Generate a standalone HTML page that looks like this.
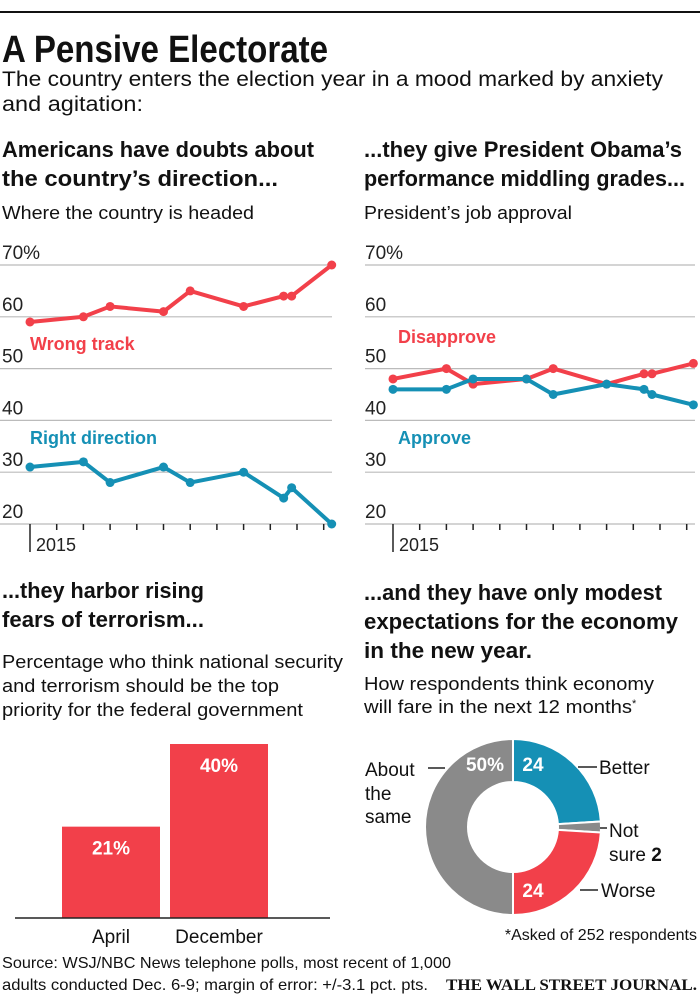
<!DOCTYPE html>
<html><head><meta charset="utf-8">
<style>
html,body{margin:0;padding:0;background:#fff;}
svg{display:block;font-family:"Liberation Sans",sans-serif;}
.b{font-weight:bold;}
</style></head>
<body>
<svg id="root" width="700" height="997" viewBox="0 0 700 997">
<line x1="0" y1="12" x2="700" y2="12" stroke="#111" stroke-width="2"/>
<text x="2" y="62" font-size="38" class="b" fill="#111" textLength="326" lengthAdjust="spacingAndGlyphs">A Pensive Electorate</text>
<text x="2" y="86" font-size="21" fill="#111" textLength="661" lengthAdjust="spacingAndGlyphs">The country enters the election year in a mood marked by anxiety</text>
<text x="2" y="111" font-size="21" fill="#111" textLength="141" lengthAdjust="spacingAndGlyphs">and agitation:</text>

<text x="2" y="157" font-size="22" class="b" fill="#111" textLength="312" lengthAdjust="spacingAndGlyphs">Americans have doubts about</text>
<text x="2" y="186" font-size="22" class="b" fill="#111" textLength="276" lengthAdjust="spacingAndGlyphs">the country’s direction...</text>
<text x="2" y="219" font-size="18" fill="#111" textLength="252" lengthAdjust="spacingAndGlyphs">Where the country is headed</text>

<text x="364" y="157" font-size="22" class="b" fill="#111" textLength="318" lengthAdjust="spacingAndGlyphs">...they give President Obama’s</text>
<text x="364" y="186" font-size="22" class="b" fill="#111" textLength="321" lengthAdjust="spacingAndGlyphs">performance middling grades...</text>
<text x="364" y="219" font-size="18" fill="#111" textLength="208" lengthAdjust="spacingAndGlyphs">President’s job approval</text>

<g id="chart1"></g>
<g id="chart2"></g>

<text x="2" y="598" font-size="22" class="b" fill="#111" textLength="202" lengthAdjust="spacingAndGlyphs">...they harbor rising</text>
<text x="2" y="627" font-size="22" class="b" fill="#111" textLength="202" lengthAdjust="spacingAndGlyphs">fears of terrorism...</text>
<text x="2" y="668" font-size="18" fill="#111" textLength="341" lengthAdjust="spacingAndGlyphs">Percentage who think national security</text>
<text x="2" y="692" font-size="18" fill="#111" textLength="277" lengthAdjust="spacingAndGlyphs">and terrorism should be the top</text>
<text x="2" y="716" font-size="18" fill="#111" textLength="301" lengthAdjust="spacingAndGlyphs">priority for the federal government</text>
<g id="chart3"></g>

<text x="364" y="600" font-size="22" class="b" fill="#111" textLength="298" lengthAdjust="spacingAndGlyphs">...and they have only modest</text>
<text x="364" y="629" font-size="22" class="b" fill="#111" textLength="314" lengthAdjust="spacingAndGlyphs">expectations for the economy</text>
<text x="364" y="658" font-size="22" class="b" fill="#111" textLength="168" lengthAdjust="spacingAndGlyphs">in the new year.</text>
<text x="364" y="690" font-size="18" fill="#111" textLength="290" lengthAdjust="spacingAndGlyphs">How respondents think economy</text>
<text x="364" y="713" font-size="18" fill="#111"><tspan textLength="268" lengthAdjust="spacingAndGlyphs">will fare in the next 12 months</tspan><tspan font-size="11" dy="-6">*</tspan></text>
<g id="chart4"></g>

<text x="2" y="968" font-size="16" fill="#111" textLength="449" lengthAdjust="spacingAndGlyphs">Source: WSJ/NBC News telephone polls, most recent of 1,000</text>
<text x="2" y="990" font-size="16" fill="#111" textLength="426" lengthAdjust="spacingAndGlyphs">adults conducted Dec. 6-9; margin of error: +/-3.1 pct. pts.</text>
<text x="697" y="990" font-size="16" class="b" fill="#111" text-anchor="end" font-family="Liberation Serif, serif" textLength="251" lengthAdjust="spacingAndGlyphs">THE WALL STREET JOURNAL.</text>
</svg>
<script>
const NS="http://www.w3.org/2000/svg";
const RED="#f2404a", BLUE="#1590b5", GRAY="#8a8a8a";
// Chart 1 data
const months1=[0,2,3,5,6,8,9.5,9.8,11.3];
const wrongTrack=[59,60,62,61,65,62,64,64,70];
const rightDirection=[31,32,28,31,28,30,25,27,20];
// Chart 2 data
const months2=[0,2,3,5,6,8,9.4,9.7,11.25];
const disapprove=[48,50,47,48,50,47,49,49,51];
const approve=[46,46,48,48,45,47,46,45,43];
const yTicks=[20,30,40,50,60,70];
const yTickLabels=["20","30","40","50","60","70%"];
// Chart 3 data
const barCategories=["April","December"];
const barValues=[21,40];
// Chart 4 data
const donutLabels=["Better","Not sure","Worse","About the same"];
const donutValues=[24,2,24,50];

function el(tag,attrs,parent,text){const e=document.createElementNS(NS,tag);for(const k in attrs)e.setAttribute(k,attrs[k]);if(text!==undefined)e.textContent=text;parent.appendChild(e);return e;}

function lineChart(gid,x0,x1,xStart,labelX,months,s1,s2,c1,c2,lab1,lab2){
  const g=document.getElementById(gid);
  const y=v=>524-(v-20)*5.18;
  const x=m=>xStart+m*26.7;
  yTicks.forEach((t,i)=>{
    const l=el("line",{x1:x0,x2:x1,y1:y(t),y2:y(t),stroke:"#bbb","stroke-width":1.2},g);
    
    
    const tx=el("text",{x:labelX,y:y(t)-6,"font-size":19,fill:"#222"},g,yTickLabels[i]);
    
    
  });
  for(let m=0;m<12;m++){
    const tk=el("line",{x1:x(m),x2:x(m),y1:524,y2:m==0?552:530,stroke:"#222","stroke-width":1.5},g);
    
    
  }
  const yr=el("text",{x:x(0)+6,y:551,"font-size":18,fill:"#222"},g,"2015");
  
  
  [[s1,c1],[s2,c2]].forEach(([s,c],k)=>{
    const p=el("polyline",{points:s.map((v,i)=>x(months[i])+","+y(v)).join(" "),fill:"none",stroke:c,"stroke-width":4,"stroke-linejoin":"round"},g);
    
    
    s.forEach((v,i)=>{
      const d=el("circle",{cx:x(months[i]),cy:y(v),r:4.5,fill:c},g);
      
      
    });
  });
  [[lab1,c1],[lab2,c2]].forEach(([l,c])=>{
    const t=el("text",{x:l[1],y:l[2],"font-size":18,"font-weight":"bold",fill:c},g,l[0]);
    
    
  });
}
lineChart("chart1",0,332,30,2,months1,wrongTrack,rightDirection,RED,BLUE,["Wrong track",30,350],["Right direction",30,444]);
lineChart("chart2",365,695,393,365,months2,disapprove,approve,RED,BLUE,["Disapprove",398,343],["Approve",398,444]);

// bar chart
(function(){
  const g=document.getElementById("chart3");
  const base=918, k=4.35, xs=[62,170], w=98;
  barValues.forEach((v,i)=>{
    const r=el("rect",{x:xs[i],y:base-v*k,width:w,height:v*k,fill:RED},g);
    
    
    const t=el("text",{x:xs[i]+w/2,y:base-v*k+28,"font-size":19,"font-weight":"bold",fill:"#fff","text-anchor":"middle"},g,v+"%");
    
    
    const c=el("text",{x:xs[i]+w/2,y:943,"font-size":19,fill:"#111","text-anchor":"middle"},g,barCategories[i]);
    
    
  });
  const a=el("line",{x1:15,x2:330,y1:base,y2:base,stroke:"#222","stroke-width":1.5},g);
  
  
})();

// donut
(function(){
  const g=document.getElementById("chart4");
  const cx=513, cy=827, R=88, r=45;
  const cols=[BLUE,GRAY,RED,GRAY];
  const total=donutValues.reduce((a,b)=>a+b,0);
  let acc=0;
  const pt=(a,rad)=>[cx+rad*Math.sin(a),cy-rad*Math.cos(a)];
  donutValues.forEach((v,i)=>{
    const a0=acc/total*2*Math.PI; acc+=v; const a1=acc/total*2*Math.PI;
    const big=(a1-a0)>Math.PI?1:0;
    const [x0,y0]=pt(a0,R),[x1,y1]=pt(a1,R),[x2,y2]=pt(a1,r),[x3,y3]=pt(a0,r);
    const p=el("path",{d:`M${x0},${y0}A${R},${R} 0 ${big} 1 ${x1},${y1}L${x2},${y2}A${r},${r} 0 ${big} 0 ${x3},${y3}Z`,fill:cols[i],stroke:"#fff","stroke-width":2},g);
    
    
  });
  const vals=[[533,771,donutValues[0]+""],[533,897,donutValues[2]+""],[485,771,donutValues[3]+"%"]];
  vals.forEach(v=>{
    const t=el("text",{x:v[0],y:v[1],"font-size":19,"font-weight":"bold",fill:"#fff","text-anchor":"middle"},g,v[2]);
    
    
  });
  const dashes=[[428,445,768],[578,597,767],[600,607,828],[580,598,890]];
  dashes.forEach(d=>{
    const l=el("line",{x1:d[0],x2:d[1],y1:d[2],y2:d[2],stroke:"#222","stroke-width":1.5},g);
    
    
  });
  const labs=[[365,776,"About"],[365,800,"the"],[365,823,"same"],[599,774,"Better"],[609,837,"Not"],[601,897,"Worse"]];
  labs.forEach(l=>{
    const t=el("text",{x:l[0],y:l[1],"font-size":19,fill:"#111"},g,l[2]);
    
    
  });
  const ns=el("text",{x:609,y:861,"font-size":19,fill:"#111"},g,"sure ");
  
  
  el("tspan",{"font-weight":"bold"},ns,donutValues[1]+"");
  const fn=el("text",{x:697,y:940,"font-size":16,fill:"#111","text-anchor":"end"},g,"*Asked of 252 respondents");
  
  
})();
</script>
</body></html>
